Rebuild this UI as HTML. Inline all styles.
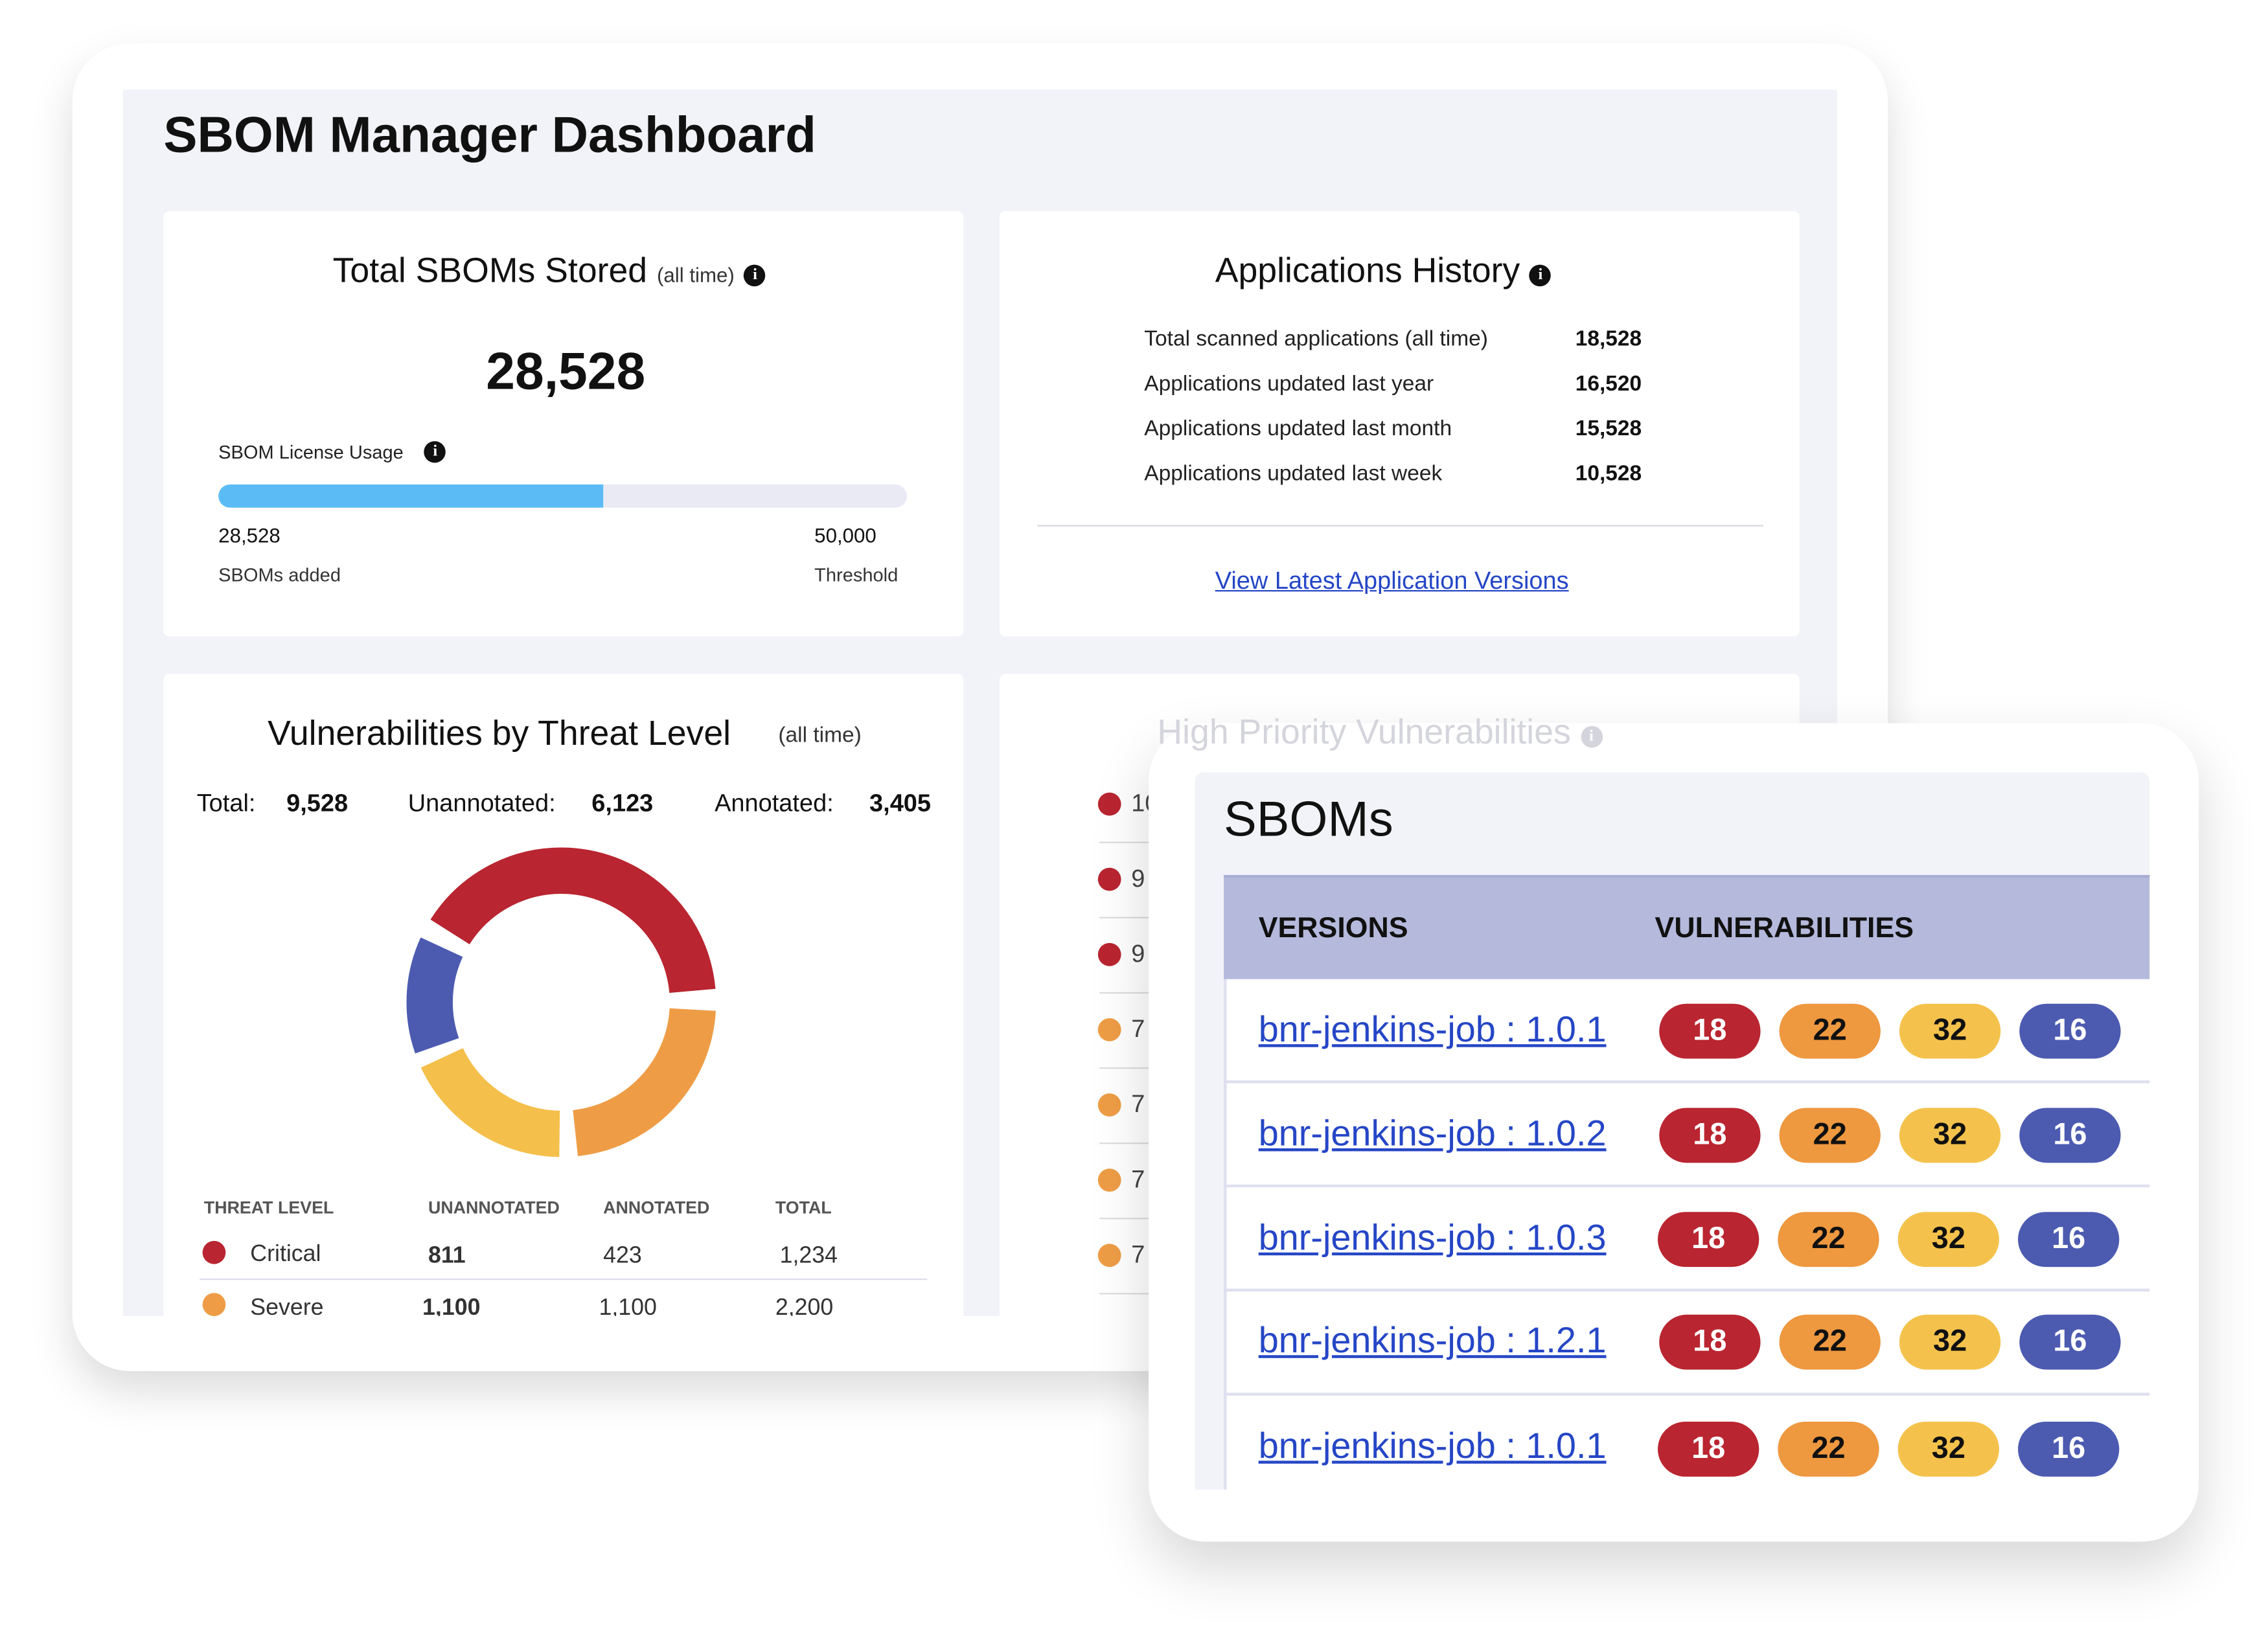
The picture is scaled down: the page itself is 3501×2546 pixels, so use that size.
<!DOCTYPE html>
<html><head><meta charset="utf-8"><style>
html,body{margin:0;padding:0;background:#fff;}
body{width:3501px;height:2535px;overflow:hidden;position:relative;font-family:"Liberation Sans",sans-serif;color:#111;}
#s{position:absolute;left:0;top:0;width:1570px;height:1140px;transform:scale(2.233);transform-origin:0 0;}
.a{position:absolute;white-space:nowrap;}
.card{position:absolute;background:#fff;border-radius:4px;}
.pill{position:absolute;width:70px;height:38px;border-radius:19px;color:#fff;font-weight:bold;font-size:21px;text-align:center;line-height:38px;}
.r{background:#b92530}.o{background:#ee983f;color:#111}.y{background:#f4c24c;color:#111}.b{background:#4c5bb0}
.lnk{color:#2546c6;text-decoration:underline;}
.info{display:inline-block;width:15px;height:15px;border-radius:50%;background:#111;color:#fff;font-size:11px;font-weight:bold;text-align:center;line-height:15px;font-family:"Liberation Serif",serif;vertical-align:2px;}
</style></head><body><div id="s">
<div class="a" style="left:50px;top:30px;width:1255px;height:918px;background:#fff;border-radius:40px;box-shadow:0 14px 30px rgba(0,0,0,0.14);"></div>
<div class="a" style="left:85px;top:62px;width:1185px;height:848px;background:#f2f3f8;"></div>
<div class="a" style="left:113px;top:74px;font-size:35px;font-weight:bold;">SBOM Manager Dashboard</div>

<!-- card1 -->
<div class="card" style="left:113px;top:146px;width:553px;height:294px;"></div>
<div class="a" style="left:230px;top:174px;font-size:24px;">Total SBOMs Stored <span style="font-size:14px;color:#333">(all time)</span> <span class="info">i</span></div>
<div class="a" style="left:336px;top:236px;font-size:36px;font-weight:bold;">28,528</div>
<div class="a" style="left:151px;top:305px;font-size:13px;color:#222;">SBOM License Usage &nbsp;&nbsp;&nbsp;<span class="info">i</span></div>
<div class="a" style="left:151px;top:335px;width:476px;height:16px;background:#e9eaf4;border-radius:8px;"></div>
<div class="a" style="left:151px;top:335px;width:266px;height:16px;background:#5bbcf5;border-radius:8px 0 0 8px;"></div>
<div class="a" style="left:151px;top:362px;font-size:14px;">28,528</div>
<div class="a" style="left:563px;top:362px;font-size:14px;">50,000</div>
<div class="a" style="left:151px;top:390px;font-size:13px;color:#333;">SBOMs added</div>
<div class="a" style="left:563px;top:390px;font-size:13px;color:#333;">Threshold</div>

<!-- card2 -->
<div class="card" style="left:691px;top:146px;width:553px;height:294px;"></div>
<div class="a" style="left:840px;top:174px;font-size:24px;">Applications History <span class="info">i</span></div>
<div class="a" style="left:791px;top:219px;font-size:15px;color:#222;line-height:31px;">Total scanned applications (all time)<br>Applications updated last year<br>Applications updated last month<br>Applications updated last week</div>
<div class="a" style="left:1089px;top:219px;font-size:15px;font-weight:bold;line-height:31px;">18,528<br>16,520<br>15,528<br>10,528</div>
<div class="a" style="left:717px;top:363px;width:502px;height:1px;background:#d8d8e0;"></div>
<div class="a lnk" style="left:840px;top:392px;font-size:17px;">View Latest Application Versions</div>

<!-- card3 -->
<div class="card" style="left:113px;top:466px;width:553px;height:444px;border-radius:4px 4px 0 0;"></div>
<div class="a" style="left:185px;top:494px;font-size:24px;">Vulnerabilities by Threat Level</div>
<div class="a" style="left:538px;top:500px;font-size:15px;color:#333;">(all time)</div>
<div class="a" style="left:136px;top:546px;font-size:17px;">Total:</div>
<div class="a" style="left:198px;top:546px;font-size:17px;font-weight:bold;">9,528</div>
<div class="a" style="left:282px;top:546px;font-size:17px;">Unannotated:</div>
<div class="a" style="left:409px;top:546px;font-size:17px;font-weight:bold;">6,123</div>
<div class="a" style="left:494px;top:546px;font-size:17px;">Annotated:</div>
<div class="a" style="left:601px;top:546px;font-size:17px;font-weight:bold;">3,405</div>
<svg class="a" style="left:268px;top:573px;" width="240" height="240" viewBox="0 0 240 240">
<g transform="rotate(-90 120 120)" fill="none" stroke-width="32">
<circle cx="120" cy="120" r="91" stroke="#b92530" stroke-dasharray="227 345" stroke-dashoffset="92"/>
<circle cx="120" cy="120" r="91" stroke="#ee9d46" stroke-dasharray="128 444" stroke-dashoffset="-148"/>
<circle cx="120" cy="120" r="91" stroke="#f4bf4a" stroke-dasharray="102 470" stroke-dashoffset="-287"/>
<circle cx="120" cy="120" r="91" stroke="#4c5bb0" stroke-dasharray="70 502" stroke-dashoffset="-398"/>
</g></svg>
<div class="a" style="left:141px;top:828px;font-size:12px;font-weight:bold;color:#555;">THREAT LEVEL</div>
<div class="a" style="left:296px;top:828px;font-size:12px;font-weight:bold;color:#555;">UNANNOTATED</div>
<div class="a" style="left:417px;top:828px;font-size:12px;font-weight:bold;color:#555;">ANNOTATED</div>
<div class="a" style="left:536px;top:828px;font-size:12px;font-weight:bold;color:#555;">TOTAL</div>
<div class="a" style="left:140px;top:858px;width:16px;height:16px;border-radius:50%;background:#b92530;"></div>
<div class="a" style="left:173px;top:859px;font-size:16px;color:#333;">Critical</div>
<div class="a" style="left:296px;top:860px;font-size:16px;font-weight:bold;color:#333;">811</div>
<div class="a" style="left:417px;top:860px;font-size:16px;color:#333;">423</div>
<div class="a" style="left:539px;top:860px;font-size:16px;color:#333;">1,234</div>
<div class="a" style="left:138px;top:884px;width:503px;height:1px;background:#dcdcec;"></div>
<div style="position:absolute;left:113px;top:890px;width:553px;height:20px;overflow:hidden;">
<div class="a" style="left:27px;top:4px;width:16px;height:16px;border-radius:50%;background:#ee9d46;"></div>
<div class="a" style="left:60px;top:6px;font-size:16px;color:#333;">Severe</div>
<div class="a" style="left:179px;top:6px;font-size:16px;font-weight:bold;color:#333;">1,100</div>
<div class="a" style="left:301px;top:6px;font-size:16px;color:#333;">1,100</div>
<div class="a" style="left:423px;top:6px;font-size:16px;color:#333;">2,200</div>
</div>

<!-- card4 -->
<div class="card" style="left:691px;top:466px;width:553px;height:444px;border-radius:4px 4px 0 0;"></div>
<div class="a" style="left:759px;top:548px;width:16px;height:16px;border-radius:50%;background:#b92530;"></div>
<div class="a" style="left:759px;top:600px;width:16px;height:16px;border-radius:50%;background:#b92530;"></div>
<div class="a" style="left:759px;top:652px;width:16px;height:16px;border-radius:50%;background:#b92530;"></div>
<div class="a" style="left:759px;top:704px;width:16px;height:16px;border-radius:50%;background:#ee9d46;"></div>
<div class="a" style="left:759px;top:756px;width:16px;height:16px;border-radius:50%;background:#ee9d46;"></div>
<div class="a" style="left:759px;top:808px;width:16px;height:16px;border-radius:50%;background:#ee9d46;"></div>
<div class="a" style="left:759px;top:860px;width:16px;height:16px;border-radius:50%;background:#ee9d46;"></div>
<div class="a" style="left:782px;top:530px;font-size:17px;color:#444;line-height:52px;">10<br>9<br>9<br>7<br>7<br>7<br>7</div>
<div class="a" style="left:760px;top:582px;width:40px;height:1px;background:#ddd;box-shadow:0 52px 0 #ddd,0 104px 0 #ddd,0 156px 0 #ddd,0 208px 0 #ddd,0 260px 0 #ddd,0 312px 0 #ddd;"></div>

<!-- SBOMs panel -->
<div class="a" style="left:794px;top:500px;width:726px;height:566px;background:#fff;border-radius:40px;box-shadow:0 18px 40px rgba(0,0,0,0.16);"></div>
<div class="a" style="left:800px;top:493px;font-size:24px;color:#d4d5dc;">High Priority Vulnerabilities <span class="info" style="background:#d4d5dc">i</span></div>
<div class="a" style="left:826px;top:534px;width:660px;height:496px;background:#f2f3f8;border-radius:6px 6px 0 0;"></div>
<div class="a" style="left:846px;top:548px;font-size:34px;">SBOMs</div>
<div class="a" style="left:846px;top:605px;width:640px;height:425px;background:#fff;border-left:2px solid #dfe0ef;"></div>
<div class="a" style="left:846px;top:605px;width:640px;height:72px;background:#b5b9dc;border-top:2px solid #a8acd2;box-sizing:border-box;"></div>
<div class="a" style="left:870px;top:631px;font-size:20px;font-weight:bold;">VERSIONS</div>
<div class="a" style="left:1144px;top:631px;font-size:20px;font-weight:bold;">VULNERABILITIES</div>
<div class="a" style="left:846px;top:747px;width:640px;height:2px;background:#dfe0ef;box-shadow:0 72px 0 #dfe0ef,0 144px 0 #dfe0ef,0 216px 0 #dfe0ef;"></div>

<div class="a lnk" style="left:870px;top:698px;font-size:25px;">bnr-jenkins-job : 1.0.1</div>
<div class="pill r" style="left:1147px;top:694px">18</div><div class="pill o" style="left:1230px;top:694px">22</div><div class="pill y" style="left:1313px;top:694px">32</div><div class="pill b" style="left:1396px;top:694px">16</div>
<div class="a lnk" style="left:870px;top:770px;font-size:25px;">bnr-jenkins-job : 1.0.2</div>
<div class="pill r" style="left:1147px;top:766px">18</div><div class="pill o" style="left:1230px;top:766px">22</div><div class="pill y" style="left:1313px;top:766px">32</div><div class="pill b" style="left:1396px;top:766px">16</div>
<div class="a lnk" style="left:870px;top:842px;font-size:25px;">bnr-jenkins-job : 1.0.3</div>
<div class="pill r" style="left:1146px;top:838px">18</div><div class="pill o" style="left:1229px;top:838px">22</div><div class="pill y" style="left:1312px;top:838px">32</div><div class="pill b" style="left:1395px;top:838px">16</div>
<div class="a lnk" style="left:870px;top:913px;font-size:25px;">bnr-jenkins-job : 1.2.1</div>
<div class="pill r" style="left:1147px;top:909px">18</div><div class="pill o" style="left:1230px;top:909px">22</div><div class="pill y" style="left:1313px;top:909px">32</div><div class="pill b" style="left:1396px;top:909px">16</div>
<div class="a lnk" style="left:870px;top:986px;font-size:25px;">bnr-jenkins-job : 1.0.1</div>
<div class="pill r" style="left:1146px;top:983px">18</div><div class="pill o" style="left:1229px;top:983px">22</div><div class="pill y" style="left:1312px;top:983px">32</div><div class="pill b" style="left:1395px;top:983px">16</div>
</div></body></html>
